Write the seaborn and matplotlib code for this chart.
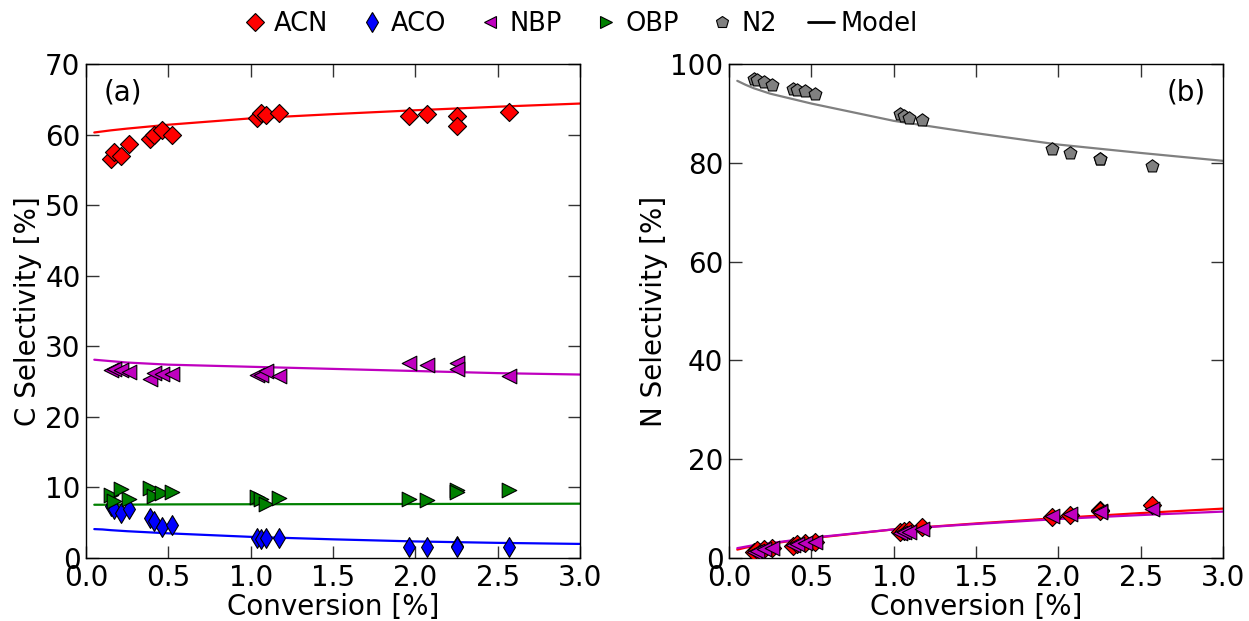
import matplotlib
matplotlib.use("Agg")
import matplotlib.pyplot as plt
from matplotlib.lines import Line2D
import seaborn as sns

# experimental conversions [%]
conv = [0.15, 0.17, 0.21, 0.26, 0.39, 0.41, 0.46, 0.52, 1.04, 1.06, 1.09, 1.17,
        1.96, 2.07, 2.25, 2.25, 2.57]

# carbon selectivities [%]
acn_c = [56.6, 57.5, 56.9, 58.6, 59.4, 60.0, 60.7, 60.0, 62.3, 63.0, 62.8, 63.0,
         62.7, 62.9, 62.6, 61.2, 63.2]
aco_c = [7.4, 7.0, 6.4, 6.9, 5.7, 5.2, 4.4, 4.7, 2.8, 2.7, 2.9, 2.8,
         1.6, 1.6, 1.7, 1.6, 1.5]
nbp_c = [26.7, 26.8, 26.6, 26.4, 25.3, 26.2, 26.1, 26.1, 26.0, 25.9, 26.5, 25.8,
         27.6, 27.3, 27.7, 26.8, 25.8]
obp_c = [9.0, 8.1, 9.8, 8.3, 9.9, 8.8, 9.2, 9.4, 8.6, 8.3, 7.7, 8.5,
         8.3, 8.2, 9.6, 9.4, 9.6]

# nitrogen selectivities [%]
n2_n = [97.0, 96.7, 96.4, 95.8, 95.0, 94.8, 94.5, 93.9, 89.8, 89.4, 89.1, 88.6,
        82.9, 82.0, 80.7, 80.7, 79.3]
acn_n = [1.3, 1.6, 1.8, 2.1, 2.5, 2.8, 3.1, 3.3, 5.2, 5.5, 5.6, 6.2,
         8.3, 8.8, 9.8, 9.6, 10.7]
nbp_n = [1.2, 1.5, 1.8, 2.0, 2.6, 2.9, 3.0, 3.2, 5.0, 5.3, 5.2, 5.8,
         8.6, 9.0, 9.6, 9.4, 9.9]

# model curves
model_x = [0.05, 0.1, 0.15, 0.25, 0.5, 1.0, 1.5, 2.0, 2.5, 3.0]
acn_c_model = [60.3, 60.45, 60.6, 60.85, 61.4, 62.3, 62.9, 63.45, 63.95, 64.4]
nbp_c_model = [28.1, 28.0, 27.9, 27.7, 27.4, 27.1, 26.8, 26.5, 26.2, 26.0]
obp_c_model = [7.55, 7.55, 7.56, 7.57, 7.6, 7.62, 7.64, 7.66, 7.68, 7.7]
aco_c_model = [4.1, 4.05, 3.95, 3.8, 3.5, 3.0, 2.65, 2.35, 2.15, 2.0]
n2_n_model = [96.6, 95.8, 95.1, 94.0, 92.0, 88.5, 86.0, 83.7, 82.0, 80.4]
acn_n_model = [1.7, 2.1, 2.4, 2.9, 4.0, 5.8, 7.0, 8.1, 9.1, 10.0]
nbp_n_model = [2.0, 2.3, 2.6, 3.0, 4.1, 5.8, 6.9, 7.9, 8.7, 9.4]

RED, BLUE, MAG, GRN, GRY = "#ff0000", "#0000ff", "#bf00bf", "#008000", "#808080"

sns.set_theme(style="ticks")
plt.rcParams["font.family"] = ["DejaVu Sans"]
plt.rcParams.update({
    "text.color": "black", "axes.labelcolor": "black",
    "xtick.direction": "in", "ytick.direction": "in",
    "xtick.top": True, "ytick.right": True,
    "xtick.major.size": 9, "ytick.major.size": 9,
    "xtick.major.width": 1.0, "ytick.major.width": 1.0,
    "xtick.color": "#333333", "ytick.color": "#333333",
    "xtick.labelcolor": "black", "ytick.labelcolor": "black",
    "xtick.major.pad": 4, "ytick.major.pad": 4,
    "axes.edgecolor": "black", "axes.linewidth": 1.0,
})

fig = plt.figure(figsize=(12.49, 6.21), dpi=100)
ax1 = fig.add_axes([0.0689, 0.1014, 0.3955, 0.7955])
ax2 = fig.add_axes([0.5837, 0.1014, 0.3955, 0.7955])

ms = 85
ekw = dict(edgecolor="black", linewidth=0.8, zorder=3, legend=False)
lkw = dict(linewidth=1.6, zorder=2, legend=False)

# panel (a)
sns.lineplot(x=model_x, y=acn_c_model, color=RED, ax=ax1, **lkw)
sns.lineplot(x=model_x, y=nbp_c_model, color=MAG, ax=ax1, **lkw)
sns.lineplot(x=model_x, y=obp_c_model, color=GRN, ax=ax1, **lkw)
sns.lineplot(x=model_x, y=aco_c_model, color=BLUE, ax=ax1, **lkw)
sns.scatterplot(x=conv, y=acn_c, marker="D", color=RED, s=ms, ax=ax1, **ekw)
sns.scatterplot(x=conv, y=aco_c, marker="d", color=BLUE, s=ms * 1.2, ax=ax1, **ekw)
sns.scatterplot(x=conv, y=nbp_c, marker="<", color=MAG, s=ms * 1.3, ax=ax1, **ekw)
sns.scatterplot(x=conv, y=obp_c, marker=">", color=GRN, s=ms * 1.3, ax=ax1, **ekw)

# panel (b)
sns.lineplot(x=model_x, y=n2_n_model, color=GRY, ax=ax2, **lkw)
sns.lineplot(x=model_x, y=acn_n_model, color=RED, ax=ax2, **lkw)
sns.lineplot(x=model_x, y=nbp_n_model, color=MAG, ax=ax2, **lkw)
sns.scatterplot(x=conv, y=n2_n, marker="p", color=GRY, s=ms * 1.1, ax=ax2, **ekw)
sns.scatterplot(x=conv, y=acn_n, marker="D", color=RED, s=ms, ax=ax2, **ekw)
sns.scatterplot(x=conv, y=nbp_n, marker="<", color=MAG, s=ms * 1.3, ax=ax2, **ekw)

for ax, ylab, ymax, ystep in [(ax1, "C Selectivity [%]", 70, 10),
                              (ax2, "N Selectivity [%]", 100, 20)]:
    ax.set_xlim(0, 3.0)
    ax.set_ylim(0, ymax)
    ax.set_xticks([0.0, 0.5, 1.0, 1.5, 2.0, 2.5, 3.0])
    ax.set_xticklabels(["0.0", "0.5", "1.0", "1.5", "2.0", "2.5", "3.0"])
    ax.set_yticks(list(range(0, ymax + 1, ystep)))
    ax.tick_params(labelsize=20)
    ax.set_xlabel("Conversion [%]", fontsize=20, labelpad=1)
    ax.set_ylabel(ylab, fontsize=20, labelpad=2)
    for sp in ax.spines.values():
        sp.set_visible(True)

ax1.text(0.035, 0.943, "(a)", transform=ax1.transAxes, fontsize=20, ha="left", va="center")
ax2.text(0.965, 0.943, "(b)", transform=ax2.transAxes, fontsize=20, ha="right", va="center")

handles = [
    Line2D([], [], marker="D", color=RED, mec="black", mew=0.8, ls="none", ms=9, label="ACN"),
    Line2D([], [], marker="d", color=BLUE, mec="black", mew=0.8, ls="none", ms=10, label="ACO"),
    Line2D([], [], marker="<", color=MAG, mec="black", mew=0.8, ls="none", ms=9, label="NBP"),
    Line2D([], [], marker=">", color=GRN, mec="black", mew=0.8, ls="none", ms=9, label="OBP"),
    Line2D([], [], marker="p", color=GRY, mec="black", mew=0.8, ls="none", ms=9, label="N2"),
    Line2D([], [], color="black", lw=2, label="Model"),
]
fig.legend(handles=handles, loc="upper center", bbox_to_anchor=(0.464, 1.02), ncol=6,
           frameon=False, fontsize=18.5, handlelength=1.0, handletextpad=0.25,
           columnspacing=1.2)

fig.savefig("out.png", dpi=100)
